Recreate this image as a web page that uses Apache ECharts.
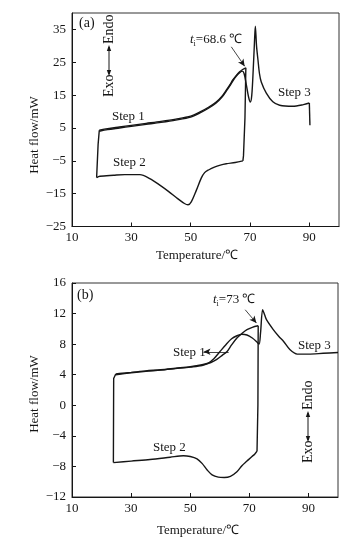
<!DOCTYPE html>
<html>
<head>
<meta charset="utf-8">
<style>
  html, body { margin: 0; padding: 0; background: #fff; }
  #chart { width: 348px; height: 544px; }
</style>
<script src="https://cdn.jsdelivr.net/npm/echarts@6/dist/echarts.min.js"></script>
</head>
<body>
<div id="chart"></div>
<script>
// ---------- tick labels ----------
const tempTicks = [10, 30, 50, 70, 90];
const heatTicksA = [-25, -15, -5, 5, 15, 25, 35];
const heatTicksB = [-12, -8, -4, 0, 4, 8, 12, 16];

// ---------- panel (a): [temperature °C, heat flow mW] ----------
const aStep1 = [[19.2,4.3],[22,4.8],[26,5.3],[30,5.8],[35,6.4],[40,7.0],[45,7.7],[50,8.6],[53,9.8],[56,11.3],[58.6,12.9],[60.5,14.6],[62,16.5],[63.2,18.1],[64.2,19.6],[65.4,21.0],[66.5,22.1],[67.5,22.8],[68.6,23.3]];
const aDrop = [[68.6,23.3],[68.3,8],[67.8,-3.5],[67.6,-5.0]];
const aStep2 = [[67.6,-5.0],[65,-5.5],[62,-5.9],[60,-6.3],[58,-6.9],[56,-7.8],[54.7,-8.6],[53.6,-10.2],[51.9,-14.0],[50.2,-17.5],[49.1,-18.4],[47.9,-18.0],[45.6,-16.5],[42.5,-14.3],[39.6,-12.4],[36.2,-10.4],[32.9,-9.2],[27.8,-9.2],[24,-9.4],[19.4,-9.7],[18.3,-10.1]];
const aRise = [[18.3,-10.1],[18.8,0],[19.2,4.3]];
const aStep3 = [[19.2,4.0],[22,4.5],[26,5.0],[30,5.5],[35,6.1],[40,6.7],[45,7.4],[50,8.3],[53,9.5],[56,11.0],[58.6,12.6],[60.5,14.3],[62,16.2],[63.2,17.8],[64.2,19.3],[65.4,20.8],[66.5,21.8],[67.4,22.3],[68.0,21.6],[68.8,18.0],[69.5,14.5],[70.1,12.9],[70.6,15.0],[71.1,23.0],[71.5,31.0],[71.8,36.0],[72.2,30.0],[72.7,25.6],[73.2,21.5],[73.8,19.0],[75.5,15.6],[77.7,12.95],[80,11.9],[84.4,11.6],[88,12.1],[90,12.6]];
const aEnd = [[90,12.6],[90.2,5.8]];

// ---------- panel (b) ----------
const bStep1 = [[24.8,4.1],[26,4.15],[30,4.3],[35,4.5],[40,4.65],[45,4.85],[50,5.05],[54,5.3],[57,5.6],[59,6.0],[61,6.6],[62.4,7.0],[64,7.9],[65.8,8.8],[67.5,9.4],[69.2,9.9],[71,10.2],[73,10.4]];
const bDrop = [[73,10.4],[72.9,0],[72.6,-6.0]];
const bStep2 = [[72.6,-6.0],[71.8,-6.4],[70.9,-6.7],[69.2,-7.3],[67.5,-7.9],[65.8,-8.7],[63.6,-9.3],[61.5,-9.45],[59.5,-9.4],[57.4,-9.1],[55.8,-8.5],[54,-7.6],[52.3,-7.0],[50,-6.7],[47.7,-6.6],[43.2,-6.8],[36.4,-7.1],[30,-7.3],[24,-7.5]];
const bRise = [[24,-7.5],[24.1,3.5],[24.8,4.1]];
const bStep3 = [[24.8,4.0],[30,4.25],[35,4.45],[40,4.6],[45,4.8],[50,5.0],[54,5.2],[56,5.5],[58,6.1],[60,7.0],[62,7.9],[64,8.7],[65.8,9.1],[67.5,9.3],[69.2,9.2],[71,8.8],[72.5,8.3],[73.3,8.0],[73.8,9.5],[74.5,12.5],[75.2,11.8],[75.8,11.2],[78.1,9.9],[80,9.0],[81.6,8.35],[83.7,7.3],[86.2,6.7],[90,6.7],[95,6.8],[100,6.9]];

const serif = '"Liberation Serif", "Times New Roman", serif';
const ink = '#161616';
const minus = v => String(v).replace('-', '\u2212');

function xAxis(gridIndex) {
  return {
    type: 'value', gridIndex, min: 10, max: 100,
    axisLine: { show: true, onZero: false, lineStyle: { color: ink, width: 1 } },
    axisTick: { show: true, inside: true, length: 4, customValues: tempTicks, lineStyle: { color: ink } },
    axisLabel: { customValues: tempTicks, color: ink, fontFamily: serif, fontSize: 13, margin: 5 },
    splitLine: { show: false }
  };
}
function yAxis(gridIndex, min, max, ticks) {
  return {
    type: 'value', gridIndex, min, max,
    axisLine: { show: true, onZero: false, lineStyle: { color: ink, width: 1 } },
    axisTick: { show: true, inside: true, length: 4, customValues: ticks, lineStyle: { color: ink } },
    axisLabel: { customValues: ticks, formatter: minus, color: ink, fontFamily: serif, fontSize: 13, margin: 6 },
    splitLine: { show: false }
  };
}
function curve(data, idx, smooth, extra) {
  return Object.assign({
    type: 'line', data, xAxisIndex: idx, yAxisIndex: idx,
    showSymbol: false, smooth: smooth ? 0.3 : false, silent: true, animation: false,
    lineStyle: { color: ink, width: 1.4 }
  }, extra || {});
}
function leader(from, to, arrowAtStart) {
  return {
    silent: true, animation: false,
    symbol: arrowAtStart ? ['arrow', 'none'] : ['none', 'arrow'],
    symbolSize: [5, 7],
    label: { show: false },
    lineStyle: { color: ink, width: 0.8, type: 'solid' },
    data: [[{ coord: from }, { coord: to }]]
  };
}
function label(text, x, y, size) {
  return { type: 'text', x, y, style: { text, fill: ink, font: (size || 13) + 'px ' + serif, verticalAlign: 'middle' } };
}
function tLabel(value, x, y) {
  return {
    type: 'text', x, y,
    style: {
      text: '{t|t}{s|i}{n|=' + value + ' ℃}',
      verticalAlign: 'middle',
      rich: {
        t: { fontFamily: serif, fontSize: 13, fontStyle: 'italic', fill: ink, lineHeight: 16, verticalAlign: 'middle' },
        s: { fontFamily: serif, fontSize: 8, fill: ink, lineHeight: 8, verticalAlign: 'bottom' },
        n: { fontFamily: serif, fontSize: 13, fill: ink, lineHeight: 16, verticalAlign: 'middle' }
      }
    }
  };
}
function exoEndo(cx, cy) {
  return {
    type: 'group', x: cx, y: cy, rotation: Math.PI / 2,
    children: [
      { type: 'text', x: -42, y: 0, style: { text: 'Exo', fill: ink, font: '14px ' + serif, verticalAlign: 'middle', align: 'left' } },
      { type: 'line', shape: { x1: -19, y1: 0, x2: 8, y2: 0 }, style: { stroke: ink, lineWidth: 1 } },
      { type: 'polygon', shape: { points: [[-21, 0], [-15, -2.2], [-15, 2.2]] }, style: { fill: ink } },
      { type: 'polygon', shape: { points: [[10, 0], [4, -2.2], [4, 2.2]] }, style: { fill: ink } },
      { type: 'text', x: 11, y: 0, style: { text: 'Endo', fill: ink, font: '14px ' + serif, verticalAlign: 'middle', align: 'left' } }
    ]
  };
}
function vTitle(text, cx, cy) {
  return { type: 'text', x: cx, y: cy, rotation: Math.PI / 2, style: { text, fill: ink, font: '13px ' + serif, align: 'center', verticalAlign: 'middle' } };
}
function hTitle(text, cx, cy) {
  return { type: 'text', x: cx, y: cy, style: { text, fill: ink, font: '13px ' + serif, align: 'center', verticalAlign: 'middle' } };
}

const chart = echarts.init(document.getElementById('chart'), null, { renderer: 'canvas' });
chart.setOption({
  backgroundColor: '#fff',
  animation: false,
  grid: [
    { left: 72, top: 13, width: 267, height: 213.5, show: true, borderColor: '#333', borderWidth: 1, backgroundColor: 'transparent' },
    { left: 72, top: 283, width: 266, height: 214, show: true, borderColor: '#333', borderWidth: 1, backgroundColor: 'transparent' }
  ],
  xAxis: [xAxis(0), xAxis(1)],
  yAxis: [yAxis(0, -25, 40, heatTicksA), yAxis(1, -12, 16, heatTicksB)],
  series: [
    curve(aStep1, 0, true, { markLine: leader([63.7, 29.7], [68.2, 23.8], false) }),
    curve(aDrop, 0, false),
    curve(aStep2, 0, true),
    curve(aRise, 0, false),
    curve(aStep3, 0, true),
    curve(aEnd, 0, false),
    curve(bStep1, 1, true, { markLine: leader([68.6, 12.5], [72.4, 10.76], false) }),
    curve(bDrop, 1, false),
    curve(bStep2, 1, true),
    curve(bRise, 1, false),
    curve(bStep3, 1, true, { markLine: leader([54.5, 7.0], [63, 7.0], true) })
  ],
  graphic: [
    label('(a)', 79, 23, 14),
    tLabel('68.6', 190, 40),
    label('Step 1', 112, 117),
    label('Step 2', 113, 163),
    label('Step 3', 278, 93),
    exoEndo(109, 55),
    vTitle('Heat flow/mW', 35, 135),
    hTitle('Temperature/℃', 197, 256),

    label('(b)', 77, 295, 14),
    tLabel('73', 213, 300),
    label('Step 1', 173, 353),
    label('Step 2', 153, 448),
    label('Step 3', 298, 346),
    exoEndo(308, 421),
    vTitle('Heat flow/mW', 35, 394),
    hTitle('Temperature/℃', 198, 531)
  ]
});
</script>
</body>
</html>
